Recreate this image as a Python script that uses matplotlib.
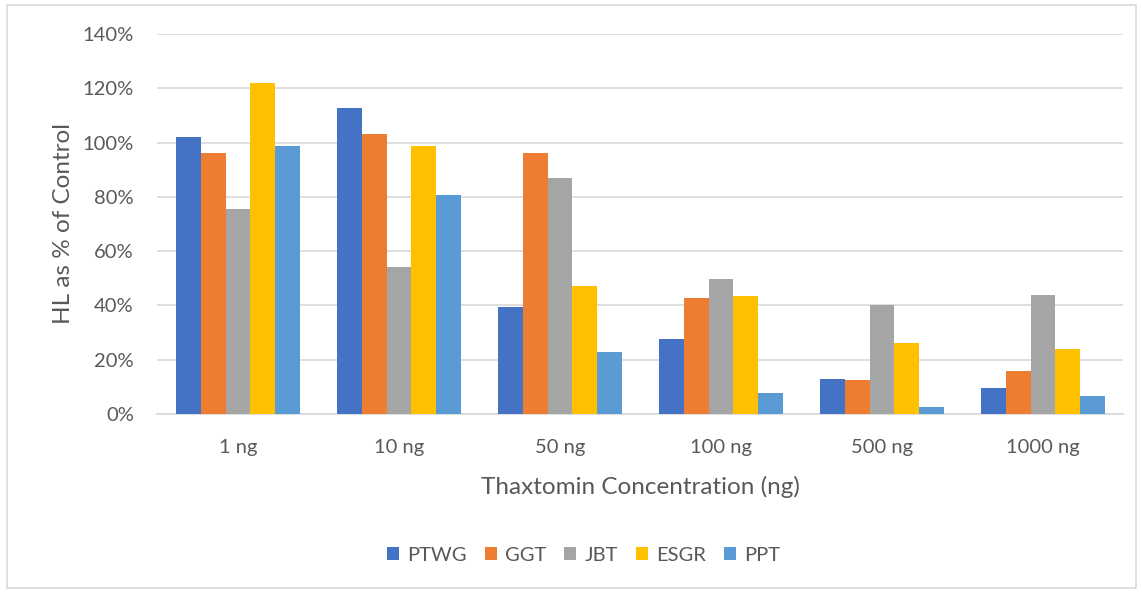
import numpy as np
import matplotlib.pyplot as plt
from matplotlib.patches import Rectangle
from matplotlib.ticker import PercentFormatter

plt.rcParams['font.family'] = ['Lato', 'DejaVu Sans']

concentrations = ['1 ng', '10 ng', '50 ng', '100 ng', '500 ng', '1000 ng']
ptwg = [1.02, 1.127, 0.393, 0.275, 0.130, 0.095]
ggt = [0.962, 1.030, 0.962, 0.428, 0.126, 0.157]
jbt = [0.756, 0.542, 0.871, 0.497, 0.402, 0.438]
esgr = [1.220, 0.987, 0.473, 0.434, 0.262, 0.240]
ppt = [0.986, 0.807, 0.230, 0.077, 0.027, 0.066]

series = [('PTWG', ptwg, '#4472C4'), ('GGT', ggt, '#ED7D31'),
          ('JBT', jbt, '#A5A5A5'), ('ESGR', esgr, '#FFC000'),
          ('PPT', ppt, '#5B9BD5')]

text_col = '#595959'
grid_col = '#D9D9D9'

fig = plt.figure(figsize=(11.42, 5.92), dpi=100)
ax = fig.add_axes([0.1379, 0.3007, 0.8459, 0.6419])

x = np.arange(len(concentrations))
bw = 1 / 6.52
for i, (name, vals, col) in enumerate(series):
    ax.bar(x + (i - 2) * bw, vals, bw, color=col, label=name, zorder=3)

ax.set_xlim(-0.5, len(concentrations) - 0.5)
ax.set_ylim(0, 1.4)
ax.set_yticks(np.arange(0, 1.41, 0.2))
ax.yaxis.set_major_formatter(PercentFormatter(1.0, decimals=0))
ax.set_xticks(x)
ax.set_xticklabels(concentrations)
ax.grid(axis='y', color=grid_col, linewidth=1.2, zorder=0)
ax.tick_params(length=0, labelsize=14.5, colors=text_col)
ax.tick_params(axis='y', pad=17)
ax.tick_params(axis='x', pad=18)
for side in ['top', 'right', 'left']:
    ax.spines[side].set_visible(False)
ax.spines['bottom'].set_color(grid_col)
ax.spines['bottom'].set_linewidth(1.2)

ax.set_xlabel('Thaxtomin Concentration (ng)', fontsize=17.5, color=text_col, labelpad=14)
ax.set_ylabel('HL as % of Control', fontsize=17.5, color=text_col, labelpad=6)

fig.legend(loc='center', bbox_to_anchor=(0.511, 0.062), ncol=5, frameon=False,
           handlelength=0.6, handleheight=0.6, handletextpad=0.4,
           columnspacing=0.9, fontsize=14.5, labelcolor=text_col)

# thin frame around the whole chart
fig.patches.append(Rectangle((0.006, 0.007), 0.989, 0.984, transform=fig.transFigure,
                             fill=False, edgecolor=grid_col, linewidth=1.2))

fig.savefig('out.png', dpi=100)
